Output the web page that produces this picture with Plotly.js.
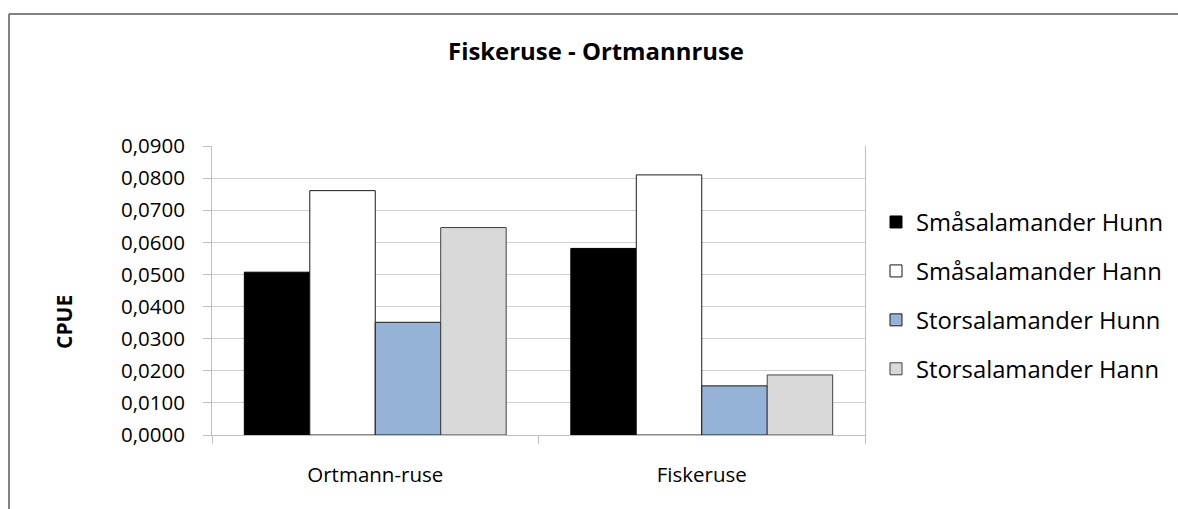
<!DOCTYPE html>
<html>
<head>
<meta charset="utf-8">
<script src="https://cdn.plot.ly/plotly-3.0.1.min.js"></script>
<style>html,body{margin:0;padding:0;background:#fff;overflow:hidden;width:1178px;height:509px}#chart{position:absolute;left:0;top:0;width:1178px;height:509px;overflow:hidden}</style>
</head>
<body>
<div id="chart"></div>
<script>
const categories = ['Ortmann-ruse', 'Fiskeruse'];
const seriesNames = ['Småsalamander Hunn', 'Småsalamander Hann', 'Storsalamander Hunn', 'Storsalamander Hann'];
const smaHunn = [0.0507, 0.0581];
const smaHann = [0.0761, 0.0810];
const storHunn = [0.0351, 0.0153];
const storHann = [0.0646, 0.0187];
const yTicks = [0, 0.01, 0.02, 0.03, 0.04, 0.05, 0.06, 0.07, 0.08, 0.09];

const values = [smaHunn, smaHann, storHunn, storHann];
const fills = ['#000000', '#ffffff', '#95b3d7', '#d9d9d9'];
const outlines = ['#000000', '#1a1a1a', '#1a1a1a', '#404040'];
const FONT = 'Open Sans, sans-serif';

const traces = values.map((v, i) => ({
  type: 'bar',
  name: seriesNames[i],
  x: categories,
  y: v,
  legendgroup: 'g' + i,
  marker: {color: fills[i], line: {color: outlines[i], width: 1}},
  hoverinfo: 'none'
}));

const L = 212, R = 865, T = 146, B = 435, W = 1178, H = 509;
const px = x => (x - L) / (R - L);
const py = y => (B - y) / (B - T);

const layout = {
  width: W, height: H,
  margin: {l: L, r: W - R, t: T, b: H - B, pad: 0, autoexpand: false},
  paper_bgcolor: '#fff', plot_bgcolor: '#fff',
  font: {family: FONT, color: '#000', size: 20},
  separators: ',.',
  barmode: 'group', bargap: 0.198, bargroupgap: 0,
  title: {text: '<b>Fiskeruse - Ortmannruse</b>', font: {family: FONT, size: 23.9, color: '#000'},
          xref: 'container', x: 596 / W, xanchor: 'center', yref: 'container', y: 1 - 52 / H, yanchor: 'middle'},
  xaxis: {type: 'category', tickson: 'boundaries', ticks: 'outside', ticklen: 8, tickcolor: '#bfbfbf',
          showline: true, linecolor: '#bfbfbf', linewidth: 1, showgrid: false, zeroline: false,
          tickfont: {family: FONT, size: 20.5, color: '#000'}, ticklabelstandoff: 21, fixedrange: true},
  yaxis: {range: [0, 0.09], tickvals: yTicks, tickformat: '.4f', ticks: 'outside', ticklen: 8, tickcolor: '#bfbfbf',
          showline: true, mirror: true, linecolor: '#bfbfbf', linewidth: 1,
          showgrid: true, gridcolor: '#d0d0d0', gridwidth: 1, zeroline: false,
          tickfont: {family: FONT, size: 20.5, color: '#000'}, ticklabelstandoff: 14, fixedrange: true},
  legend: {x: px(876), xanchor: 'left', y: py(200), yanchor: 'top', traceorder: 'grouped', tracegroupgap: 15,
           maxheight: 800,
           font: {family: FONT, size: 23.8, color: '#000'}, bgcolor: 'rgba(0,0,0,0)', borderwidth: 0},
  annotations: [{text: '<b>CPUE</b>', textangle: -90, xref: 'paper', yref: 'paper', x: px(64), y: py(322),
                 xanchor: 'center', yanchor: 'middle', showarrow: false, font: {family: FONT, size: 21, color: '#000'}}],
  shapes: [
    {type: 'line', xref: 'paper', yref: 'paper', x0: px(9), x1: px(9), y0: py(14), y1: py(520), line: {color: '#595959', width: 1.5}},
    {type: 'line', xref: 'paper', yref: 'paper', x0: px(9), x1: px(1178), y0: py(14), y1: py(14), line: {color: '#595959', width: 1.5}}
  ]
};

Plotly.newPlot('chart', traces, layout, {staticPlot: true, displayModeBar: false});
</script>
</body>
</html>
